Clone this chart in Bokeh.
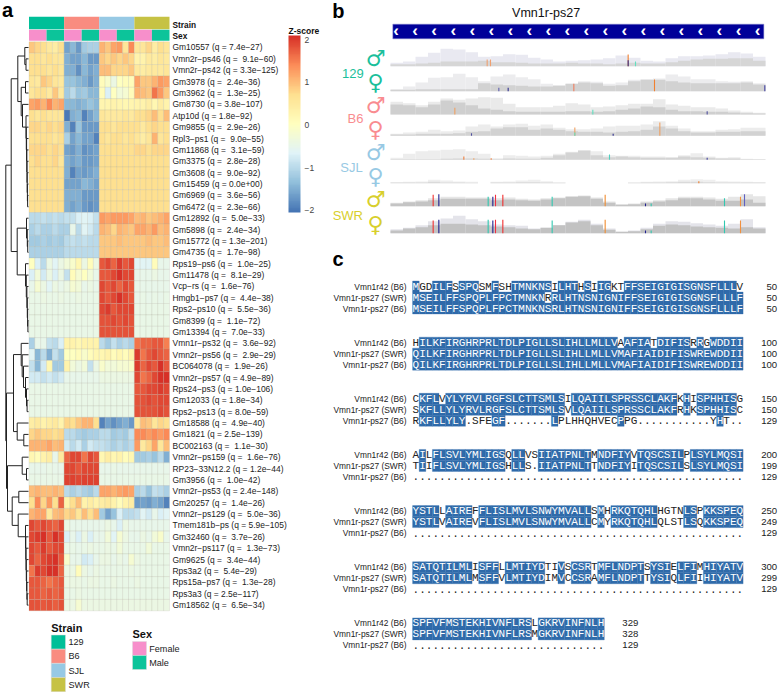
from bokeh.embed import file_html
from bokeh.resources import INLINE
from bokeh.layouts import row, column
from bokeh.models import ColorBar, FixedTicker, LinearColorMapper, Range1d
from bokeh.plotting import figure
from bokeh.core.properties import value

# ---------- panel a data ----------
strain_names = ["129", "B6", "SJL", "SWR"]
sex_names = ["Female", "Male"]
gene_labels = [
    "Gm10557 (q = 7.4e-27)", "Vmn2r-ps46 (q =  9.1e-60)", "Vmn2r-ps42 (q = 3.3e-125)", "Gm3978 (q =  2.4e-36)",
    "Gm3962 (q =  1.3e-25)", "Gm8730 (q = 3.8e-107)", "Atp10d (q = 1.8e-92)", "Gm9855 (q =  2.9e-26)",
    "Rpl3-ps1 (q =  9.0e-55)", "Gm11868 (q =  3.1e-59)", "Gm3375 (q =  2.8e-28)", "Gm3608 (q =  9.0e-92)",
    "Gm15459 (q = 0.0e+00)", "Gm6969 (q =  3.6e-56)", "Gm6472 (q =  2.3e-66)", "Gm12892 (q =  5.0e-33)",
    "Gm5898 (q =  2.4e-34)", "Gm15772 (q = 1.3e-201)", "Gm4735 (q =  1.7e-98)", "Rps19-ps6 (q =  1.0e-25)",
    "Gm11478 (q =  8.1e-29)", "Vcp-rs (q =  1.6e-76)", "Hmgb1-ps7 (q =  4.4e-38)", "Rps2-ps10 (q =  5.5e-36)",
    "Gm8399 (q =  1.1e-72)", "Gm13394 (q =  7.0e-33)", "Vmn1r-ps32 (q =  3.6e-92)", "Vmn2r-ps56 (q =  2.9e-29)",
    "BC064078 (q =  1.9e-26)", "Vmn2r-ps57 (q = 4.9e-89)", "Rps24-ps3 (q = 1.0e-106)", "Gm12033 (q = 1.8e-34)",
    "Rps2-ps13 (q = 8.0e-59)", "Gm18588 (q =  4.9e-40)", "Gm1821 (q = 2.5e-139)", "BC002163 (q =  1.1e-30)",
    "Vmn2r-ps159 (q =  1.6e-76)", "RP23-33N12.2 (q = 1.2e-44)", "Gm3956 (q =  1.0e-42)", "Vmn2r-ps53 (q = 2.4e-148)",
    "Gm20257 (q =  1.4e-26)", "Vmn2r-ps129 (q =  5.0e-36)", "Tmem181b-ps (q = 5.9e-105)", "Gm32460 (q =  3.7e-26)",
    "Vmn2r-ps117 (q =  1.3e-73)", "Gm9625 (q =  3.4e-44)", "Rps3a2 (q =  5.4e-29)", "Rps15a-ps7 (q =  1.3e-28)",
    "Rps3a3 (q = 2.5e-117)", "Gm18562 (q =  6.5e-34)",
]
# z-scores, one row per gene; 6 samples per strain (3 female, 3 male)
z_rows = [
    [.9,.8,.7,.5,.4,.7, -1.6,-1.4,-1.7,-1.2,-1.1,-1.1, 1.1,.9,1.2,1.3,.6,1.4, .6,.6,.8,.4,.7,.6],
    [.7,.7,.6,.7,.6,.6, -1.5,-1.6,-1.6,-1.4,-1.7,-1.7, .9,.8,.9,.8,.9,.8, .3,.3,.5,.4,.6,.5],
    [.7,.7,.7,.6,.7,.6, -1.5,-1.5,-1.8,-1.4,-1.6,-1.5, 1.0,1.0,.8,.8,.8,.9, .5,.4,.5,.5,.5,.6],
    [.6,.5,.9,.8,.6,.5, -1.3,-1.3,-1.4,-1.5,-1.7,-1.5, .1,-.1,-.4,.0,.1,.1, 1.2,.9,.9,1.1,1.3,1.2],
    [.6,.7,.7,.5,.9,.5, -1.2,-1.0,-1.3,-1.2,-1.4,-1.4, .1,-.7,.0,-.3,-.2,.1, 1.1,1.0,.9,1.6,1.3,.9],
    [1.2,1.3,1.1,1.4,1.1,1.2, -1.4,-1.4,-1.5,-1.4,-1.3,-1.4, .25,.25,.3,.25,.2,.25, .3,.3,.4,.2,.4,.3],
    [.7,.6,.7,.6,.6,.6, -2.0,-1.5,-1.4,-1.9,-1.6,-1.4, .6,.5,.5,.5,.6,.5, .7,.7,.8,1.0,.7,1.0],
    [.8,.8,.7,.8,.7,.8, -1.5,-1.9,-1.3,-1.7,-1.7,-1.7, .7,.7,.6,.7,.7,.7, .7,.5,.7,.8,.7,.7],
    [.7,.7,.7,.7,.6,.7, -1.1,-1.6,-1.4,-1.6,-1.6,-1.9, .7,.6,.7,.7,.6,.7, .6,.4,.6,1.1,.6,.7],
    [.8,.8,.8,.7,.8,.7, -1.6,-1.7,-1.5,-1.8,-1.7,-1.6, .7,.7,.7,.7,.7,.7, .8,.8,.7,.8,.8,.8],
    [.7,.8,.7,.7,.8,.6, -1.5,-1.6,-1.5,-1.7,-1.7,-1.6, .7,.7,.7,.7,.7,.7, .7,.7,.7,.7,.7,.7],
    [.7,.7,.7,.7,.7,.7, -1.5,-1.9,-1.6,-1.7,-1.6,-1.5, .7,.7,.7,.7,.7,.7, .7,.7,.7,.7,.7,.7],
    [.7,.7,.7,.7,.7,.7, -1.6,-1.6,-1.6,-1.4,-1.5,-1.6, .7,.7,.7,.7,.7,.7, .7,.7,.7,.7,.7,.7],
    [.7,.7,.7,.7,.7,.7, -1.5,-1.5,-1.5,-1.7,-1.7,-1.7, .7,.7,.7,.7,.7,.7, .7,.7,.7,.7,.7,.7],
    [.7,.7,.7,.7,.7,.7, -1.5,-1.6,-1.5,-1.7,-1.8,-1.7, .7,.7,.7,.7,.7,.7, .7,.7,.7,.7,.7,.7],
    [-1.0,-1.0,-.9,-1.0,-.9,-1.0, -.9,-.9,-.7,-.6,-.7,-.9, 1.3,1.2,1.3,1.3,1.3,1.2, 1.0,1.1,.9,1.0,1.1,1.2],
    [-1.1,-1.0,-1.1,-1.1,-1.0,-1.1, -1.1,-.5,-1.0,-.6,-.8,-1.0, 1.1,1.0,.8,1.1,1.0,.9, 1.2,1.2,1.1,1.3,1.0,1.1],
    [-1.2,-1.2,-1.1,-1.2,-1.1,-1.2, -1.0,-.9,-1.0,-.9,-1.0,-1.0, .9,.9,.9,1.0,.9,.9, .9,.9,1.0,.9,.9,1.0],
    [-1.1,-1.1,-1.1,-1.1,-1.1,-1.1, -1.0,-1.0,-1.0,-1.0,-1.0,-1.0, .9,.9,.9,.9,.9,.9, .9,.9,.9,.9,.9,.9],
    [.0,-.7,-1.0,-.4,-.6,-.4, -.3,-.1,.2,-.4,.1,-.4, 1.8,1.9,1.7,2.0,1.8,1.9, -.6,-.6,-.6,.1,-.5,-.5],
    [-.7,-.3,-.8,-.4,-.7,-.4, -.9,.1,-.2,.0,-.3,-.5, 1.8,1.8,1.9,2.1,1.9,1.9, -.5,-.5,-.5,-.4,-.5,-.5],
    [-.5,-.2,-.4,-.6,-.4,-.5, -.4,-.2,-.3,-.5,-.4,-.5, 1.9,1.8,1.9,1.7,1.9,1.8, -.5,-.5,-.5,-.5,-.5,-.5],
    [-.45,-.45,-.4,-.45,-.45,-.4, -.45,-.45,-.4,-.45,-.45,-.45, 1.9,1.8,1.9,2.1,1.9,1.8, -.5,-.45,-.5,-.45,-.5,-.45],
    [-.45,-.45,-.45,-.45,-.45,-.45, -.45,-.45,-.45,-.45,-.45,-.45, 1.9,2.0,1.8,1.9,1.9,1.9, -.45,-.45,-.45,-.45,-.45,-.45],
    [-.45,-.45,-.45,-.45,-.45,-.45, -.45,-.45,-.45,-.45,-.45,-.45, 1.85,1.85,1.9,1.85,1.9,1.85, -.45,-.45,-.45,-.45,-.45,-.45],
    [-.45,-.45,-.45,-.45,-.45,-.45, -.45,-.45,-.45,-.45,-.45,-.45, 1.85,1.85,1.85,1.85,1.85,1.85, -.45,-.45,-.45,-.45,-.45,-.45],
    [-1.1,-.5,-.5,-.9,-1.0,-.7, .3,.3,.2,.3,.3,.3, -1.0,-1.2,-.9,-1.1,-1.0,-1.1, 1.6,1.7,1.7,1.8,1.8,1.5],
    [-.6,-1.4,-1.0,-1.5,-.9,-1.2, .0,.0,.1,-.1,.1,.2, .2,.3,.1,.2,.1,.3, 2.0,1.6,1.8,1.9,1.8,1.7],
    [-.9,-1.4,-.8,.2,-1.2,-1.2, .3,-.3,-.4,-.3,-.9,-.4, -.1,-.3,-.3,-.2,-.2,-.1, 2.0,1.7,1.9,1.8,2.1,1.8],
    [-.8,-.8,-.9,-.8,-.9,-.8, -.5,-.5,-.5,-.5,-.5,-.5, -.4,-.4,-.4,-.4,-.4,-.4, 1.9,1.6,1.7,1.9,2.1,2.1],
    [-.45,-.45,-.45,-.45,-.45,-.45, -.45,-.45,-.45,-.45,-.45,-.45, -.45,-.45,-.45,-.45,-.45,-.45, 1.8,1.8,1.9,1.9,2.0,1.9],
    [-.45,-.45,-.45,-.45,-.45,-.45, -.45,-.45,-.45,-.45,-.45,-.45, -.45,-.45,-.45,-.45,-.45,-.45, 1.85,1.85,1.9,1.85,1.9,1.9],
    [-.45,-.45,-.45,-.45,-.45,-.45, -.45,-.45,-.45,-.45,-.45,-.45, -.45,-.45,-.45,-.45,-.45,-.45, 1.85,1.85,1.85,1.85,1.9,1.85],
    [.4,.5,.3,.4,.5,.3, .8,.7,.9,1.1,1.1,.7, -1.9,-1.6,-1.8,-1.6,-1.5,-1.7, .5,1.0,.9,.6,.8,.7],
    [.8,.9,.8,.8,.7,.8, -1.0,-1.0,-1.1,-1.2,-1.1,-1.1, -1.0,-1.0,-1.2,-1.1,-1.2,-.9, 1.4,1.4,1.3,1.4,1.3,1.4],
    [1.1,1.1,1.1,1.2,1.0,1.1, -.8,-1.0,-.8,-1.1,-.8,-.9, -.9,-1.0,-1.1,-1.0,-1.1,-1.0, 1.3,.5,.8,1.2,.6,1.0],
    [.2,.1,.3,.4,-.5,.5, 1.7,1.9,1.9,1.6,1.9,1.8, .2,.4,.2,.3,.1,.2, -1.2,-1.2,-1.1,-1.3,-1.0,-1.5],
    [-.5,-.5,-.5,-.45,-.5,-.5, 1.9,1.9,1.8,1.9,1.9,1.9, -.5,-.5,-.45,-.5,-.5,-.5, -.5,-.5,-.5,-.5,-.5,-.5],
    [-.45,-.45,-.45,-.45,-.45,-.45, 1.95,1.95,1.9,1.95,1.95,1.95, -.45,-.45,-.45,-.45,-.45,-.45, -.45,-.45,-.45,-.45,-.45,-.45],
    [1.0,1.1,1.0,1.0,1.1,1.0, -1.0,-1.1,-1.0,-1.1,-1.2,-1.0, 1.2,1.2,1.1,1.2,1.3,1.2, -1.1,-1.0,-1.3,-.9,-1.0,-1.1],
    [.7,1.4,.8,1.3,.7,1.7, .3,.7,1.0,.3,.4,.3, .4,.5,.3,.1,.3,.4, -1.7,-1.6,-1.7,-1.5,-1.6,-1.9],
    [1.1,1.2,1.2,.5,1.0,1.1, .8,.9,.6,1.0,.7,1.0, -1.2,-1.6,-1.3,-.7,-1.0,-1.0, -.9,-.6,-.8,-.5,-.7,-.6],
    [1.9,1.8,1.9,1.8,1.7,1.9, -.4,-.5,-.5,-.5,-.5,-.5, -.5,-.4,-.5,-.7,-.4,-.5, -.5,-.5,-.5,-.5,-.5,-.5],
    [1.9,2.0,2.1,1.8,2.1,1.9, -.7,-.5,-.7,-.4,-.7,-.5, -.5,-.3,-.6,-.2,-.4,-.5, -.5,-.4,-.5,-.3,-.1,-.5],
    [1.9,1.8,2.0,1.8,1.9,1.9, -.45,-.45,-.5,-.45,-.4,-.45, -.45,-.4,-.45,-.3,-.45,-.45, -.45,-.45,-.3,-.45,-.45,-.45],
    [1.9,1.7,1.9,2.0,2.1,1.8, -.1,-.5,-.5,-.8,-.7,-.5, -.4,-.4,-.5,-.4,-.5,-.2, -.4,-.45,-.45,-.45,-.45,-.45],
    [1.6,2.0,1.9,2.1,2.1,1.7, -.4,-.4,.1,-.4,-.5,-.4, -.45,-.45,-.45,-.45,-.45,-.4, -.45,-.45,-.45,-.45,-.45,-.45],
    [1.8,1.8,1.7,1.6,1.7,1.8, -.4,-.4,-.4,-.45,-.4,-.4, -.45,-.45,-.4,-.45,-.45,-.45, -.4,-.45,-.45,-.45,-.45,-.45],
    [1.8,1.8,1.7,1.8,1.7,1.8, -.45,-.45,-.4,-.45,-.45,-.45, -.45,-.45,-.45,-.45,-.45,-.45, -.45,-.45,-.45,-.45,-.45,-.45],
    [1.85,1.85,1.8,1.85,1.75,1.85, -.4,-.4,-.2,-.4,-.4,-.4, -.4,-.4,-.4,-.4,-.4,-.4, -.4,-.4,-.4,-.4,-.4,-.4],
]
# row dendrogram: (merge height, left, right); leaves are 1-based gene rows
tree_1_3 = (3.7, 1, (2.5, 2, 3))
tree_7_15 = (2.5, 7, (2.2, 8, (1.9, 9, (1.7, 10, (1.5, 11, (1.3, 12, (1.1, 13, (0.9, 14, 15))))))))
tree_4_15 = (7.3, (3, 4, 5), (6, 6, tree_7_15))
tree_16_19 = (2, 16, (1.2, 17, (0.8, 18, 19)))
tree_20_26 = (3, 20, (2.2, 21, (1.6, 22, (1.2, 23, (0.9, 24, (0.6, 25, 26))))))
tree_1_26 = (17.3, (10.7, tree_1_3, tree_4_15), (11.3, tree_16_19, tree_20_26))
tree_27_33 = (7.3, 27, (6.3, 28, (5, 29, (3, 30, (2, 31, (1.4, 32, 33))))))
tree_34_36 = (11.3, 34, (4.7, 35, 36))
tree_43_50 = (3, 43, (2.7, 44, (2.5, 45, (2.2, 46, (1.9, 47, (1.6, 48, (1.3, 49, 50)))))))
tree_40_50 = (16.3, (9.7, 40, 41), (10.3, 42, tree_43_50))
tree_37_50 = (21, (6.3, 37, (2, 38, 39)), tree_40_50)
tree_root = (22.7, tree_1_26, (22, (15, tree_27_33, tree_34_36), tree_37_50))

# ---------- panel b data (gene position, read depth) ----------
gene_title = "Vmn1r-ps27"
arrow_count = 20
track_groups = ["129", "B6", "SJL", "SWR"]
track_light = [
    [10,14,28,40,52,50,42,28,30,36,34,25,20,14,16,18,20,24,32,25,16,14,24,30,30,32,36,42,38,28],
    [6,14,26,40,42,52,42,30,44,50,42,36,22,18,22,30,28,22,26,34,36,38,50,44,36,36,30,28,30,24],
    [38,34,28,38,48,44,48,52,50,32,22,22,22,26,34,30,22,24,28,32,32,46,30,26,22,22,18,12,8,5],
    [6,10,12,18,14,16,28,34,28,34,36,30,34,24,20,20,22,28,30,30,34,44,30,22,14,14,18,20,24,24],
    [6,18,26,28,30,32,26,18,5,14,12,10,12,18,24,28,26,14,12,12,10,10,8,14,20,10,6,8,3,2],
    [3,4,5,10,8,5,4,0,4,5,8,10,6,3,0,0,0,0,0,3,4,5,6,10,12,10,6,5,4,3],
    [10,14,18,24,28,28,26,26,24,26,22,20,24,26,30,32,26,14,6,8,14,18,24,28,28,26,22,28,36,30],
    [12,16,24,36,44,52,42,36,26,24,22,14,16,24,34,40,28,14,4,8,16,28,36,34,30,26,22,28,42,18],
]
track_dark = [
    [6,6,8,10,14,14,14,16,12,12,10,8,8,8,10,8,8,6,8,10,8,8,12,16,20,22,22,24,24,16],
    [4,4,6,6,6,6,6,24,20,18,16,14,14,16,22,26,24,16,18,30,34,34,30,26,24,24,24,24,26,20],
    [30,28,22,30,42,36,28,18,14,10,8,8,8,8,10,10,8,10,14,18,24,22,14,10,10,8,8,6,4,3],
    [4,4,6,6,6,8,12,14,22,26,26,18,22,18,14,12,12,10,12,14,18,28,22,14,10,10,12,12,14,14],
    [2,2,2,2,3,4,4,3,2,4,3,3,6,14,22,28,14,8,10,8,6,6,6,10,8,6,4,4,2,2],
    [2,2,2,4,2,2,1,0,2,2,3,3,2,1,0,0,0,0,0,1,2,2,3,4,4,3,2,2,2,2],
    [8,12,14,18,22,22,22,22,18,20,18,16,20,24,28,30,22,10,4,6,10,14,18,24,24,20,16,16,20,10],
    [8,14,18,24,28,28,26,24,20,18,14,12,16,24,32,36,24,10,4,6,12,22,26,24,20,18,16,14,18,14],
]
variant_track = [0,0,0,0,0, 1,1,1,1,1, 2,2,2, 3,3,3,3,3, 4,4,4,4,4, 5,
                 6,6,6,6,6,6,6,6,6,6,6,6,6, 7,7,7,7,7,7,7,7,7,7,7,7]
variant_pos = [290,300,713,713,735, 325,353,550,792,1123, 193,607,950, 243,553,553,668,808, 220,250,302,657,950, 925,
               128,145,293,307,315,337,485,644,765,782,1002,1050,1062, 128,145,293,307,315,337,485,644,765,782,1002,1050]
variant_height = [20,20,35,18,14, 10,10,22,35,18, 20,14,10, 8,25,10,6,40, 10,5,5,16,6, 6,
                  34,36,28,28,34,34,28,34,8,8,24,28,36, 38,40,40,38,40,40,38,40,8,8,38,38]
variant_color = ["#F0A070","#F0A070","#F08030","#303090","#60E0C0", "#6060B0","#303090","#F08060","#F08030","#4040A0",
                 "#F0A060","#60E0C0","#5050A0", "#5050A0","#F0A060","#60E0C0","#303090","#F0A060",
                 "#F08040","#F0A060","#F08040","#50D0C0","#4040A0", "#F08030",
                 "#F03030","#202090","#30C8B0","#202090","#F03040","#F03030","#30C8B0","#F08C30","#202090","#30C8B0","#30C8B0","#F09040","#6060C0",
                 "#F03030","#202090","#30C8B0","#202090","#F03040","#F03030","#30C8B0","#F08C30","#202090","#30C8B0","#30C8B0","#F09040"]

# ---------- panel c data ----------
seq_names = ["Vmn1r42 (B6)", "Vmn1r-ps27 (SWR)", "Vmn1r-ps27 (B6)"]
seq_blocks = [
    ["MGDILFSSPQSMFSHTMNKNSILHTHSIIGKTFFSEIGIGISGNSFLLLV",
     "MSEILFFSPQPLFPCTMNKNRRLHTNSNIGNIFFSEIGIGISGNSFLLLF",
     "MSEILFFSPQPLFPCTMNKNSRLHTNSNIGNIFFSEIGIGISGNSFLLLF"],
    ["HILKFIRGHRPRLTDLPIGLLSLIHLLMLLVAAFIATDIFISRRGWDDII",
     "QILKFIRGHRPRLTDLPIGLLSLIHLLMLLVMAFIAIDIFISWREWDDII",
     "QILKFIRGHRPRLTDLPIGLLSLIHLLMLLVMAFIAIDIFISWREWDDII"],
    ["CKFLVYLYRVLRGFSLCTTSMLSILQAIILSPRSSCLAKFKHISPHHISG",
     "SKFLLYLYRVLRGFSLCTTSMLSVLQAIILSPRSSCLAKFRHKSPHHISC",
     "RKFLLYLY.SFEGF.......LPLHHQHVECPPG...........YHT.."],
    ["AILFLSVLYMLIGSQLLVSIIATPNLTMNDFIYVTQSCSILPLSYLMQSI",
     "TIIFLSVLYMLIGSHLLS.IIATPNLTTNDFIYITQSCSILSLSYLMQSI",
     ".................................................."],
    ["YSTLLAIREFFLISLMVLSNWYMVALLSMHRKQTQHLHGTNLSPKKSPEQ",
     "YSTLVAIREVFLISLMVLSNWYMVALLCMYRKQTQHLQLSTLSQKKSPEQ",
     ".................................................."],
    ["SATQTILMLISFFLLMTIYDTIVSCSRTMFLNDPTSYSIELFIMHIYATV",
     "SATQTILMLMSFFVLMTIYDIMVCCSRAMFLNDPTTYSIQLFIIHIYATV",
     ".................................................."],
    ["SPFVFMSTEKHIVNFLRSLGKRVINFNLH",
     "SPFVFMSTEKHIVNFLRSMGKRVINFNLH",
     "............................."],
]
seq_ends = [[50,50,50],[100,100,100],[150,150,129],[200,199,129],[250,249,129],[300,299,129],[329,328,129]]

# ---------- styles ----------
SANS = value("Liberation Sans")
strain_colors = ["#00BF98", "#F98C80", "#97C9E4", "#C6C244"]
sex_colors = ["#F78FCB", "#0CC49A"]
anchors = ["#4575B4", "#91BFDB", "#E0F3F8", "#FFFFBF", "#FEE090", "#FC8D59", "#D73027"]

def ramp(cols, n=100):
    rgb = [tuple(int(c[i:i + 2], 16) for i in (1, 3, 5)) for c in cols]
    out = []
    for k in range(n):
        t = k / (n - 1) * (len(rgb) - 1)
        i = min(int(t), len(rgb) - 2)
        f = t - i
        out.append("#%02x%02x%02x" % tuple(round(rgb[i][j] * (1 - f) + rgb[i + 1][j] * f) for j in range(3)))
    return out

mapper = LinearColorMapper(palette=ramp(anchors), low=-2.05, high=2.1)

def blank(p):
    p.axis.visible = False
    p.grid.visible = False
    p.outline_line_color = None
    p.background_fill_color = "white"
    p.border_fill_color = "white"
    p.min_border = 0
    return p

# ---------- panel a ----------
CELL_W, ROW_H = 5.854, 11.38
HM_LEFT, HM_TOP = 28.5, 41.3
A_W, A_H = 330, 692
def ax(px): return (px - HM_LEFT) / CELL_W
def ay(py): return (py - HM_TOP) / ROW_H

pa = blank(figure(width=A_W, height=A_H, output_backend="svg", toolbar_location=None,
                  x_range=Range1d(ax(0), ax(A_W)), y_range=Range1d(ay(A_H), ay(0))))

n_rows, n_cols = len(z_rows), len(z_rows[0])
pa.rect(x=[c + .5 for r in range(n_rows) for c in range(n_cols)],
        y=[r + .5 for r in range(n_rows) for c in range(n_cols)],
        width=1, height=1,
        fill_color=[mapper.palette[min(99, max(0, int((v + 2.05) / 4.15 * 100)))] for rw in z_rows for v in rw],
        line_color="#A8A89A", line_width=0.35, line_alpha=0.55)

# column annotations
pa.quad(left=[i * 6 for i in range(4)], right=[(i + 1) * 6 for i in range(4)],
        top=[ay(16.3)] * 4, bottom=[ay(28.7)] * 4, fill_color=strain_colors, line_color=None)
pa.quad(left=[i * 3 for i in range(8)], right=[(i + 1) * 3 for i in range(8)],
        top=[ay(29.3)] * 8, bottom=[ay(40.3)] * 8, fill_color=sex_colors * 4, line_color=None)
pa.text(x=[ax(172)] * 2, y=[ay(24.3), ay(35.7)], text=["Strain", "Sex"], text_font=SANS, text_font_style="bold",
        text_font_size="8.3px", text_baseline="middle", text_color="#111111")

# gene labels (a no-break space keeps the wider gaps of the reference)
pa.text(x=[ax(172)] * n_rows, y=[r + .5 for r in range(n_rows)],
        text=[g.replace("-", "\u2212").replace("  ", " \u00a0") for g in gene_labels], text_font=SANS,
        text_font_size="8.45px", text_baseline="middle", text_color="#222222")

# dendrogram
TREE_RIGHT, TREE_SCALE = 28.0, 1.0
segs = ([], [], [], [])
def walk(n):
    if isinstance(n, int):
        return TREE_RIGHT, n - .5
    h, a, b = n
    xa, ya = walk(a)
    xb, yb = walk(b)
    x = TREE_RIGHT - h * TREE_SCALE
    for sx0, sy0, sx1, sy1 in ((x, ya, xa, ya), (x, yb, xb, yb), (x, ya, x, yb)):
        segs[0].append(ax(sx0)); segs[1].append(sy0); segs[2].append(ax(sx1)); segs[3].append(sy1)
    return x, (ya + yb) / 2
walk(tree_root)
pa.segment(x0=segs[0], y0=segs[1], x1=segs[2], y1=segs[3], line_color="#222222", line_width=1)

# legends
pa.text(x=[ax(50.7), ax(132)], y=[ay(627), ay(633.7)], text=["Strain", "Sex"], text_font=SANS,
        text_font_style="bold", text_font_size="11px", text_baseline="middle", text_color="#111111")
pa.quad(left=[ax(50.7)] * 4, right=[ax(65)] * 4, top=[ay(634.5 + i * 14.2) for i in range(4)],
        bottom=[ay(648.7 + i * 14.2) for i in range(4)], fill_color=strain_colors, line_color="#dddddd", line_width=0.5)
pa.text(x=[ax(68)] * 4, y=[ay(641.7 + i * 14.2) for i in range(4)], text=strain_names, text_font=SANS,
        text_font_size="9.1px", text_baseline="middle", text_color="#222222")
pa.quad(left=[ax(132)] * 2, right=[ax(146)] * 2, top=[ay(641 + i * 14) for i in range(2)],
        bottom=[ay(655 + i * 14) for i in range(2)], fill_color=sex_colors, line_color="#dddddd", line_width=0.5)
pa.text(x=[ax(148.7)] * 2, y=[ay(648 + i * 14) for i in range(2)], text=sex_names, text_font=SANS,
        text_font_size="9.1px", text_baseline="middle", text_color="#222222")

# colour bar
cb = ColorBar(color_mapper=mapper, ticker=FixedTicker(ticks=[-2, -1, 0, 1, 2]), location=(288, A_H - 212),
              width=12, height=177, padding=0,
              major_label_text_font="Liberation Sans", major_label_text_font_size="8.5px", label_standoff=4,
              major_tick_line_color=None, bar_line_color=None, background_fill_color=None, border_line_color=None)
pa.add_layout(cb, "center")
pa.text(x=[ax(288)], y=[ay(30.5)], text=["Z-score"], text_font=SANS, text_font_style="bold", text_font_size="8.5px",
        text_baseline="middle", text_color="#111111")

pa.text(x=[ax(1.5)], y=[ay(9.5)], text=["a"], text_font=SANS, text_font_style="bold", text_font_size="20px",
        text_baseline="middle", text_color="#000000")

# ---------- panel b (units: gene position and depth) ----------
B_W, B_H = 448, 240
GENE_X0 = 180
pb = blank(figure(width=B_W, height=B_H, output_backend="svg", toolbar_location=None,
                  x_range=Range1d(0, 1344), y_range=Range1d(720, 0)))
pb.text(x=[647], y=[38], text=[gene_title], text_font=SANS, text_font_size="12.5px", text_align="center",
        text_baseline="middle", text_color="#111111")
pb.quad(left=[187], right=[1300], top=[71], bottom=[115], fill_color="#000099", line_color="#8888cc", line_width=0.5)
pb.text(x=[197 + i * 57.05 for i in range(arrow_count)], y=[91] * arrow_count, text=["\u2039"] * arrow_count,
        text_color="white", text_font=SANS, text_font_style="bold", text_font_size="17px",
        text_align="center", text_baseline="middle")
bases = [197, 272, 342, 406, 478, 548, 617, 698]
light_fills = ["#E9E9F1", "#ECECEE", "#EAEAEA", "#ECECEC", "#EDEDED", "#EFEFEF", "#E6E6E6", "#E4E4EA"]
dark_fills = ["#D6D6D6", "#D2D2D2", "#CFCFCF", "#D2D2D2", "#D4D4D4", "#DADADA", "#C4C4C4", "#C2C2C2"]
BIN = 37.5
for base, light, dark, lf, df in zip(bases, track_light, track_dark, light_fills, dark_fills):
    lefts = [GENE_X0 + i * BIN for i in range(len(light))]
    rights = [l + BIN for l in lefts]
    pb.quad(left=lefts, right=rights, bottom=[base] * len(light), top=[base - v for v in light],
            fill_color=lf, line_color=None)
    pb.quad(left=lefts, right=rights, bottom=[base] * len(dark), top=[base - v for v in dark],
            fill_color=df, line_color=None)
pb.segment(x0=[GENE_X0 + v for v in variant_pos], x1=[GENE_X0 + v for v in variant_pos],
           y0=[bases[t] for t in variant_track], y1=[bases[t] - h for t, h in zip(variant_track, variant_height)],
           line_color=variant_color, line_width=1.1)
symbol_y = [175, 245, 315, 387, 457, 528, 597, 672]
group_colors = ["#1BBF9B", "#F98C90", "#97C9E4", "#D8CF2C"]
pb.text(x=[135] * 8, y=symbol_y, text=["\u2642", "\u2640"] * 4, text_color=[c for c in group_colors for _ in (0, 1)],
        text_font=value("DejaVu Sans"), text_font_size="22px", text_align="center", text_baseline="middle")
pb.text(x=[67, 75, 63, 52], y=[218, 355, 500, 645], text=track_groups,
        text_color=group_colors, text_font=SANS, text_font_size="13px",
        text_align="center", text_baseline="middle")
pb.text(x=[5], y=[30], text=["b"], text_font=SANS, text_font_style="bold", text_font_size="20px",
        text_baseline="middle", text_color="#000000")

# ---------- panel c ----------
C_W, C_H = 448, 452
pc = blank(figure(width=C_W, height=C_H, output_backend="svg", toolbar_location=None,
                  x_range=Range1d(330, 778), y_range=Range1d(692, 240)))
RES_X0, RES_W, LINE_H, BLOCK_Y0, BLOCK_H, END_GAP = 415.4, 6.61, 11.0, 286.0, 56.15, 37.4
rx, ry, rt, rc, bx, by, nx, ny, nt, ex, ey, et = [], [], [], [], [], [], [], [], [], [], [], []
for b, block in enumerate(seq_blocks):
    for s, seq in enumerate(block):
        y = BLOCK_Y0 + b * BLOCK_H + s * LINE_H
        nx.append(406); ny.append(y); nt.append(seq_names[s])
        ex.append(RES_X0 + (len(seq) - 1) * RES_W + END_GAP)
        ey.append(y); et.append(str(seq_ends[b][s]))
        for i, ch in enumerate(seq):
            others = [block[o][i] for o in range(3) if o != s]
            hit = ch != "." and ch in others
            rx.append(RES_X0 + i * RES_W); ry.append(y); rt.append(ch)
            rc.append("white" if hit else "#222222")
            if hit:
                bx.append(RES_X0 + i * RES_W); by.append(y)
pc.rect(x=bx, y=by, width=RES_W, height=LINE_H, fill_color="#2F6BAA", line_color="#2F6BAA", line_width=0.3)
pc.text(x=rx, y=ry, text=rt, text_color=rc, text_font=value("Liberation Mono"), text_font_size="11px",
        text_align="center", text_baseline="middle")
pc.text(x=nx, y=ny, text=nt, text_font=SANS, text_font_size="8.4px", text_align="right", text_baseline="middle",
        text_color="#222222")
pc.text(x=ex, y=ey, text=et, text_font=SANS, text_font_size="9.6px", text_align="right", text_baseline="middle",
        text_color="#222222")
pc.text(x=[332], y=[258], text=["c"], text_font=SANS, text_font_style="bold", text_font_size="20px",
        text_baseline="middle", text_color="#000000")

layout = row(pa, column(pb, pc, spacing=0), spacing=0)
open("out.html", "w").write(file_html(layout, INLINE))
